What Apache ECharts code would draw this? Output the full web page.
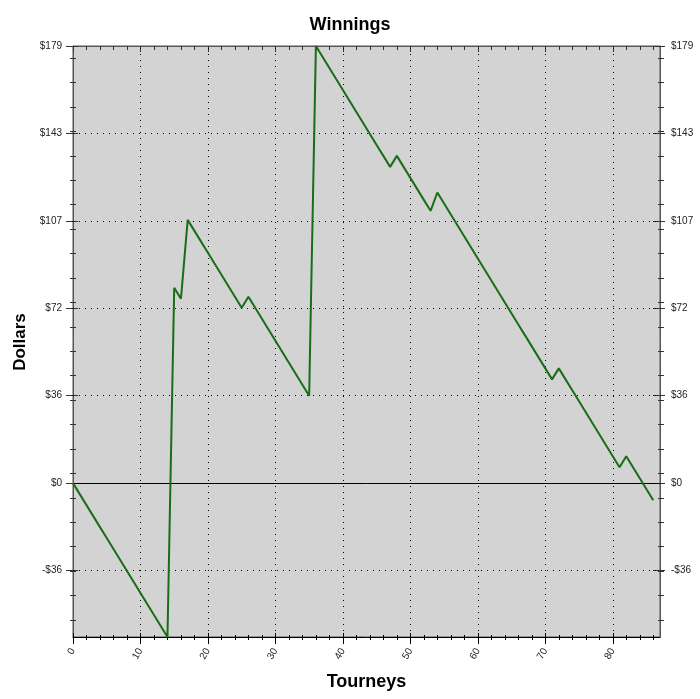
<!DOCTYPE html>
<html>
<head>
<meta charset="utf-8">
<script src="https://cdn.jsdelivr.net/npm/echarts@6/dist/echarts.min.js"></script>
<style>html,body{margin:0;padding:0;background:#fff}#c{width:700px;height:699px}</style>
</head>
<body>
<div id="c"></div>
<script>
// ---- data ----
const chartTitle = 'Winnings';
const xTitle = 'Tourneys';
const yTitle = 'Dollars';
// cumulative winnings after each tourney (tourney index = position, 0..86)
const winnings = [
  0, -4.5, -9, -13.5, -18, -22.5, -27, -31.5, -36, -40.5, -45, -49.5, -54, -58.5, -63,
  80, 75.5, 107.8, 103.3, 98.8, 94.3, 89.8, 85.3, 80.8, 76.3, 71.8,
  76.3, 71.8, 67.3, 62.8, 58.3, 53.8, 49.3, 44.8, 40.3, 35.8,
  179, 174.5, 170, 165.5, 161, 156.5, 152, 147.5, 143, 138.5, 134, 129.5,
  134, 129.5, 125, 120.5, 116, 111.5,
  119, 114.5, 110, 105.5, 101, 96.5, 92, 87.5, 83, 78.5, 74, 69.5, 65, 60.5, 56, 51.5, 47, 42.5,
  47, 42.5, 38, 33.5, 29, 24.5, 20, 15.5, 11, 6.5,
  11, 6.5, 2, -2.5, -7
];
const yTickValues = [-35.8, 0, 35.8, 71.6, 107.4, 143.2, 179];
const yTickLabels = ['-$36', '$0', '$36', '$72', '$107', '$143', '$179'];
const xTickValues = [0, 10, 20, 30, 40, 50, 60, 70, 80];
const xTickLabels = ['0', '10', '20', '30', '40', '50', '60', '70', '80'];
const yMin = -63, yMax = 179;
const xMin = 0, xMax = 87;

// minor tick positions (every $10, offset 4; every 2 tourneys)
const yMinorValues = [];
for (let v = -56; v <= 174; v += 10) yMinorValues.push(v);
const xMinorValues = [];
for (let v = 2; v <= 86; v += 2) if (v % 10 !== 0) xMinorValues.push(v);

// ---- chart ----
const FONT = 'Liberation Sans, Arial, sans-serif';
const chart = echarts.init(document.getElementById('c'), null, {renderer: 'canvas'});

function yLabel(v) {
  for (let i = 0; i < yTickValues.length; i++) {
    if (Math.abs(yTickValues[i] - v) < 1e-6) return yTickLabels[i];
  }
  return '';
}
function xLabel(v) {
  for (let i = 0; i < xTickValues.length; i++) {
    if (Math.abs(xTickValues[i] - v) < 1e-6) return xTickLabels[i];
  }
  return '';
}

function ax(type, pos, opts) {
  const isY = type === 'y';
  const base = {
    type: 'value', position: pos, gridIndex: 0,
    min: isY ? yMin : xMin, max: isY ? yMax : xMax,
    axisLine: {show: false, onZero: false},
    axisLabel: {show: false},
    splitLine: {show: false},
    axisTick: {show: false}
  };
  return Object.assign(base, opts);
}
function tick(values, inside, len, color) {
  return {show: true, inside: inside, length: len, customValues: values, lineStyle: {color: color || '#333', width: 1}};
}
const yLabelStyle = {show: true, customValues: yTickValues, formatter: yLabel, fontFamily: FONT, fontSize: 10, color: '#222', margin: 11};

const yAxes = [
  ax('y', 'left', {
    axisLine: {show: true, onZero: false, lineStyle: {color: '#555', width: 1}},
    axisTick: tick(yTickValues, false, 7),
    axisLabel: yLabelStyle
  }),
  ax('y', 'left', {axisTick: tick(yTickValues, true, 5)}),
  ax('y', 'left', {axisTick: tick(yMinorValues, false, 3)}),
  ax('y', 'left', {axisTick: tick(yMinorValues, true, 3)}),
  ax('y', 'right', {
    axisLine: {show: true, onZero: false, lineStyle: {color: '#555', width: 1}},
    axisTick: tick(yTickValues, false, 5),
    axisLabel: yLabelStyle
  }),
  ax('y', 'right', {axisTick: tick(yTickValues, true, 7)}),
  ax('y', 'right', {axisTick: tick(yMinorValues, false, 4)}),
  ax('y', 'right', {axisTick: tick(yMinorValues, true, 2)})
];

const xAxes = [
  ax('x', 'bottom', {
    axisLine: {show: true, onZero: false, lineStyle: {color: '#000', width: 1}},
    axisTick: tick(xTickValues, false, 7, '#000'),
    axisLabel: {show: true, customValues: xTickValues, formatter: xLabel, rotate: 60, fontFamily: FONT, fontSize: 10, color: '#222', margin: 12}
  }),
  ax('x', 'bottom', {axisTick: tick(xTickValues, true, 4, '#000')}),
  ax('x', 'bottom', {axisTick: tick(xMinorValues, false, 3, '#000')}),
  ax('x', 'bottom', {axisTick: tick(xMinorValues, true, 2, '#000')}),
  ax('x', 'top', {
    axisLine: {show: true, onZero: false, lineStyle: {color: '#555', width: 1}},
    axisTick: tick(xMinorValues, true, 4)
  }),
  ax('x', 'top', {axisTick: tick(xTickValues, true, 6)})
];

const points = winnings.map((v, i) => [i, v]);

const gridDash = {color: '#000', type: [1, 5], width: 1};
const gridLines = [];
yTickValues.forEach(v => { if (v !== 0 && v !== yMax) gridLines.push({yAxis: v, lineStyle: gridDash}); });
xTickValues.forEach(v => { if (v !== xMin) gridLines.push({xAxis: v, lineStyle: gridDash}); });
gridLines.push({yAxis: 0, lineStyle: {color: '#000', type: 'solid', width: 1}});

chart.setOption({
  animation: false,
  backgroundColor: '#fff',
  title: {
    text: chartTitle, left: 'center', top: 11,
    textStyle: {fontFamily: FONT, fontSize: 18, fontWeight: 'bold', color: '#000'}
  },
  grid: {
    left: 73, right: 40, top: 46, bottom: 62,
    show: true, backgroundColor: '#d3d3d3', borderColor: '#555', borderWidth: 1
  },
  xAxis: xAxes,
  yAxis: yAxes,
  series: [{
    type: 'line',
    xAxisIndex: 0, yAxisIndex: 0,
    data: points,
    showSymbol: false,
    symbol: 'none',
    lineStyle: {color: '#176e17', width: 2},
    z: 5,
    markLine: {
      silent: true, symbol: 'none', label: {show: false},
      data: gridLines,
      z: 3
    }
  }],
  graphic: [
    {
      type: 'text', x: 20, y: 342, rotation: Math.PI / 2,
      style: {text: yTitle, fontFamily: FONT, fontSize: 17, fontWeight: 'bold', fill: '#000', textAlign: 'center', textVerticalAlign: 'middle'}
    },
    {
      type: 'text', x: 366.5, y: 682,
      style: {text: xTitle, fontFamily: FONT, fontSize: 18, fontWeight: 'bold', fill: '#000', textAlign: 'center', textVerticalAlign: 'middle'}
    }
  ]
});
</script>
</body>
</html>
